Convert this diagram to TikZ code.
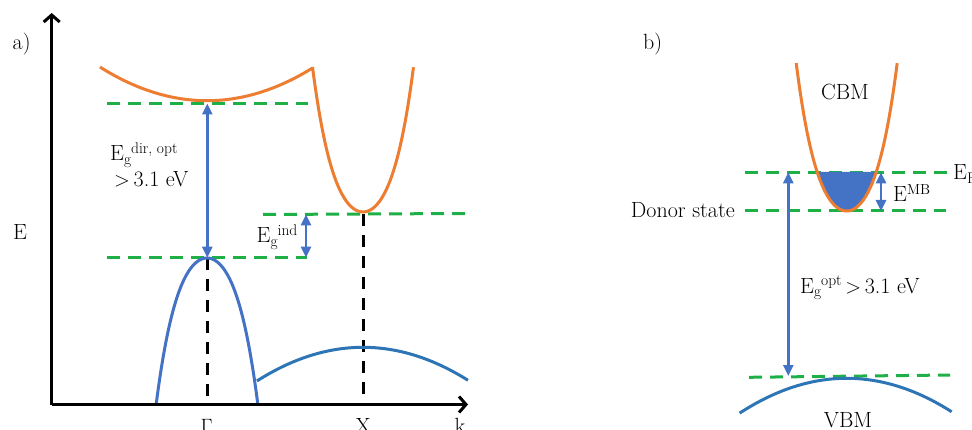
\documentclass[tikz,border=0pt]{standalone}
\usetikzlibrary{arrows.meta}
\definecolor{cborange}{HTML}{ED7D31}
\definecolor{vbblue}{HTML}{2E75B6}
\definecolor{gamblue}{HTML}{4472C4}
\definecolor{arrblue}{HTML}{4472C4}
\definecolor{lvlgreen}{RGB}{30,176,70}
\newcommand{\mysub}[1]{\raisebox{-3.5pt}{\fontsize{15.5}{15.5}\selectfont #1}}
\newcommand{\mysup}[1]{\raisebox{7.5pt}{\fontsize{15.5}{15.5}\selectfont #1}}
\begin{document}
\begin{tikzpicture}[x=1pt,y=-1pt,
  lab/.style={font=\fontsize{22}{26}\selectfont, inner sep=0pt},
  axis/.style={line width=3pt, -{Straight Barb[length=7pt,width=16pt]}},
  band/.style={line width=3pt, line join=miter},
  level/.style={line width=3pt, lvlgreen, dash pattern=on 13pt off 8pt},
  kline/.style={line width=3pt, black, dash pattern=on 12pt off 9pt},
  gap/.style={line width=2.5pt, arrblue, {Triangle[length=11pt,width=10pt]}-{Triangle[length=11pt,width=10pt]}}]
\useasboundingbox (0,0) rectangle (972,430);

% ---------------- panel a ----------------
\coordinate (O) at (51.7,404.5);
\coordinate (Ytop) at (51.7,13);
\coordinate (Xend) at (468,404.5);

% levels
\draw[level] (107,103.5) -- (308,103.5);
\draw[level] (107,257.7) -- (307,257.7);
\draw[level] (263,214.5) -- (465,213.5);

% k-point vertical dashed lines
\coordinate (Gtop) at (207,258);
\coordinate (Gbot) at (207,404);
\coordinate (Xtop) at (363,214);
\coordinate (Xbot) at (363,404);
\draw[kline] (Gtop) -- (Gbot);
\draw[kline] (Xtop) -- (Xbot);

% conduction band
\draw[band, cborange] plot[domain=100:312.5, samples=60] (\x,{100.7-33*((\x-207)/106)^2})
  -- plot[domain=-1:1, samples=81] ({363+50.5*\x},{212-145*(0.65*\x*\x+0.35*\x*\x*\x*\x)});

% valence bands
\draw[band, gamblue] plot[domain=-1:1, samples=81] ({207+50.8*\x},{258+146*(0.65*\x*\x+0.35*\x*\x*\x*\x)});
\draw[band, vbblue] plot[domain=-1.01:1, samples=60] ({363+105*\x},{347.3+33*\x*\x});

% axes
\draw[axis] (O) -- (Ytop);
\draw[axis] (O) -- (Xend);

% gap arrows
\coordinate (Da) at (207.3,103.5);
\coordinate (Db) at (207.3,257.7);
\draw[gap] (Da) -- (Db);
\coordinate (Ia) at (306,214.5);
\coordinate (Ib) at (306,257.7);
\draw[gap] (Ia) -- (Ib);

% labels
\node[lab, anchor=base west] (la) at (12.5,50) {a)};
\node[lab, anchor=base west] (lE) at (13,240) {E};
\node[lab, anchor=base west] (ldir) at (110,160.7) {E\mysub{g}\mysup{dir, opt}};
\node[lab, anchor=base west] (ldir2) at (114,187) {$>$\,3.1 eV};
\node[lab, anchor=base west] (lind) at (256.5,243) {E\mysub{g}\mysup{ind}};
\node[lab, anchor=base] (lG) at (206.7,433.5) {$\Gamma$};
\node[lab, anchor=base] (lX) at (363.3,433.5) {X};
\node[lab, anchor=base] (lk) at (460,433.5) {k};

% ---------------- panel b ----------------
\draw[level] (745,172.3) -- (947,172.3);
\draw[level] (745,211) -- (946,211);
\draw[level] (749,377.3) -- (950,375);

% filled electrons
\fill[arrblue] plot[domain=-0.586:0.586, samples=41] ({846.7+50.5*\x},{211-148*(0.65*\x*\x+0.35*\x*\x*\x*\x)}) -- cycle;
% conduction band
\draw[band, cborange] plot[domain=-1:1, samples=81] ({846.7+50.5*\x},{211-148*(0.65*\x*\x+0.35*\x*\x*\x*\x)});
% valence band
\draw[band, vbblue] plot[domain=-1.02:1, samples=60] ({846.7+105*\x},{378.3+33.5*\x*\x});

% arrows
\coordinate (Oa) at (788.3,172.3);
\coordinate (Ob) at (788.3,376);
\draw[gap] (Oa) -- (Ob);
\coordinate (Ma) at (881,172.3);
\coordinate (Mb) at (881,211);
\draw[gap] (Ma) -- (Mb);

% labels
\node[lab, anchor=base west] (lb) at (643,50) {b)};
\node[lab, anchor=base] (lcbm) at (845,99.3) {CBM};
\node[lab, anchor=base west] (lef) at (953,180) {E\mysub{F}};
\node[lab, anchor=base west] (lmb) at (893,201.7) {E\raisebox{7pt}{\fontsize{14.5}{14.5}\selectfont MB}};
\node[lab, anchor=base east] (ldon) at (735,217.7) {Donor state};
\node[lab, anchor=base west] (lopt) at (800,293.3) {E\mysub{g}\mysup{opt}\,$>$\,3.1 eV};
\node[lab, anchor=base] (lvbm) at (848,427.5) {VBM};
\end{tikzpicture}
\end{document}
